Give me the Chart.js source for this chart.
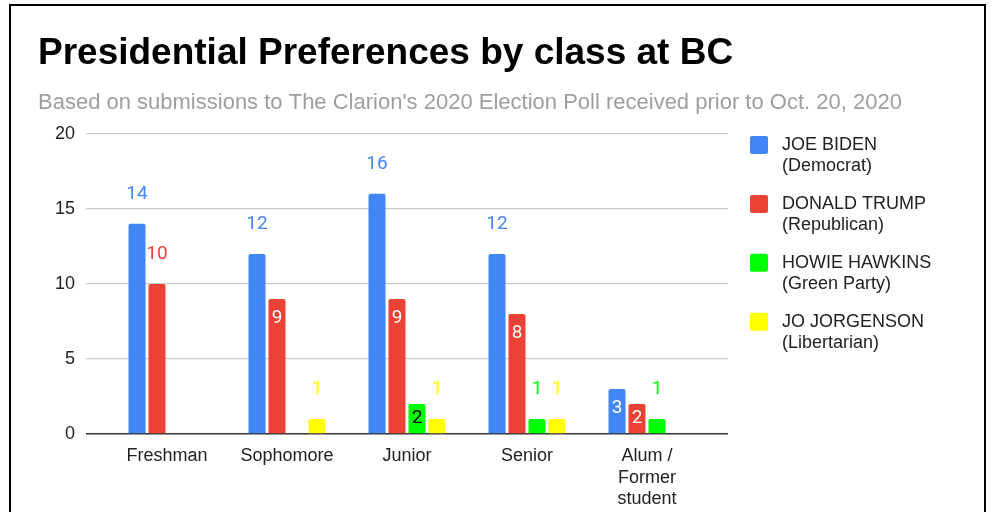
<!DOCTYPE html>
<html>
<head>
<meta charset="utf-8">
<title>Presidential Preferences by class at BC</title>
<script src="https://cdn.jsdelivr.net/npm/chart.js@4.4.1/dist/chart.umd.min.js"></script>
<style>
  html, body { margin: 0; padding: 0; background: #fff; overflow: hidden; }
  #frame {
    position: absolute; left: 9px; top: 4px; width: 977px; height: 560px;
    border: 2px solid #000; box-sizing: border-box;
  }
  #wrap { position: absolute; left: 0; top: 0; width: 993px; height: 512px; }
</style>
</head>
<body>
<div id="frame"></div>
<div id="wrap"><canvas id="chart" width="993" height="512"></canvas></div>
<script>
// Poll results by class year
const categories = ['Freshman', 'Sophomore', 'Junior', 'Senior', ['Alum /', 'Former', 'student']];
const candidates = ['JOE BIDEN', 'DONALD TRUMP', 'HOWIE HAWKINS', 'JO JORGENSON'];
const parties = ['(Democrat)', '(Republican)', '(Green Party)', '(Libertarian)'];
const biden = [14, 12, 16, 12, 3];
const trump = [10, 9, 9, 8, 2];
const hawkins = [0, 0, 2, 1, 1];
const jorgenson = [0, 1, 1, 1, 0];
const yTicks = [0, 5, 10, 15, 20];

const seriesValues = [biden, trump, hawkins, jorgenson];
const seriesColors = ['#4285f4', '#ea4335', '#00ff00', '#ffff00'];
// value labels that sit inside the bar top rather than above it
const insideLabelIdx = [[4], [1, 2, 3, 4], [2], []];
const insideLabelColor = ['#ffffff', '#ffffff', '#000000', '#000000'];

const AXIS_FONT = 'Liberation Sans, Arial, sans-serif';
const LABEL_FONT = 'Roboto, Arial, sans-serif';

const datasets = seriesValues.map((vals, i) => ({
  label: candidates[i],
  data: vals,
  backgroundColor: seriesColors[i],
  borderWidth: 0,
  borderRadius: 2,
  borderSkipped: 'bottom',
  categoryPercentage: 80 / 120,
  barPercentage: 0.85
}));

// Value labels above / inside bars
const valueLabels = {
  id: 'valueLabels',
  afterDatasetsDraw(chart) {
    const ctx = chart.ctx;
    ctx.save();
    ctx.font = '19px ' + LABEL_FONT;
    ctx.textAlign = 'center';
    ctx.textBaseline = 'middle';
    chart.data.datasets.forEach((ds, di) => {
      const meta = chart.getDatasetMeta(di);
      meta.data.forEach((el, i) => {
        const v = ds.data[i];
        if (!v) return;
        const inside = insideLabelIdx[di].includes(i);
        let y;
        if (inside) {
          y = Math.min(el.y + 19.5, el.base - 14.5);
          ctx.fillStyle = insideLabelColor[di];
        } else {
          y = el.y - 30;
          ctx.fillStyle = seriesColors[di];
        }
        ctx.fillText(String(v), el.x, y);
      });
    });
    ctx.restore();
  }
};

// Two-line legend on the right
const sideLegend = {
  id: 'sideLegend',
  afterDraw(chart) {
    const ctx = chart.ctx;
    const x0 = chart.chartArea.right + 22;
    const top0 = 136;
    const pitch = 58.9;
    ctx.save();
    ctx.font = '18px ' + AXIS_FONT;
    ctx.textAlign = 'left';
    ctx.textBaseline = 'middle';
    chart.data.datasets.forEach((ds, i) => {
      const y = top0 + i * pitch;
      ctx.fillStyle = ds.backgroundColor;
      ctx.beginPath();
      ctx.roundRect(x0, y, 18, 18, 2);
      ctx.fill();
      ctx.fillStyle = '#222';
      ctx.fillText(ds.label, x0 + 32, y + 9.5);
      ctx.fillText(parties[i], x0 + 32, y + 30.5);
    });
    ctx.restore();
  }
};

new Chart(document.getElementById('chart'), {
  type: 'bar',
  data: { labels: categories, datasets },
  options: {
    responsive: false,
    animation: false,
    layout: { padding: { left: 38, top: 0, right: 0, bottom: 0 } },
    plugins: {
      legend: { display: false },
      tooltip: { enabled: false },
      title: {
        display: true,
        text: 'Presidential Preferences by class at BC',
        align: 'start',
        color: '#000',
        font: { family: AXIS_FONT, size: 37, weight: 'bold', lineHeight: 1.2 },
        padding: { top: 32, bottom: 0 }
      },
      subtitle: {
        display: true,
        text: "Based on submissions to The Clarion's 2020 Election Poll received prior to Oct. 20, 2020",
        align: 'start',
        color: '#9e9e9e',
        font: { family: AXIS_FONT, size: 22, lineHeight: 1.2 },
        padding: { top: 13, bottom: 18 }
      }
    },
    scales: {
      x: {
        type: 'category',
        offset: true,
        grid: { display: false },
        border: { display: false },
        ticks: { color: '#222', font: { family: AXIS_FONT, size: 18, lineHeight: 1.17 }, padding: 4, maxRotation: 0, autoSkip: false },
        afterFit(scale) { scale.height = 78; },
        afterBuildTicks(scale) {
          // widen the value range so the groups sit 120px apart inside a wider plot
          const extra = 21 / 120;
          scale._startValue = -0.5 - extra;
          scale._valueRange = scale.getLabels().length + 2 * extra;
        }
      },
      y: {
        min: yTicks[0],
        max: yTicks[yTicks.length - 1],
        afterBuildTicks(scale) { scale.ticks = yTicks.map(v => ({ value: v })); },
        grid: {
          drawTicks: false,
          color: c => (c.tick && c.tick.value === 0 ? '#333' : '#cccccc'),
          lineWidth: c => (c.tick && c.tick.value === 0 ? 1.6 : 1.2)
        },
        border: { display: false },
        ticks: { color: '#222', font: { family: AXIS_FONT, size: 18 }, padding: 11 },
        afterFit(scale) { scale.width = 48; }
      },
      legendSpace: {
        type: 'linear',
        position: 'right',
        display: true,
        grid: { display: false, drawTicks: false },
        border: { display: false },
        ticks: { display: false },
        afterFit(scale) { scale.width = 265; }
      }
    }
  },
  plugins: [valueLabels, sideLegend]
});
</script>
</body>
</html>
